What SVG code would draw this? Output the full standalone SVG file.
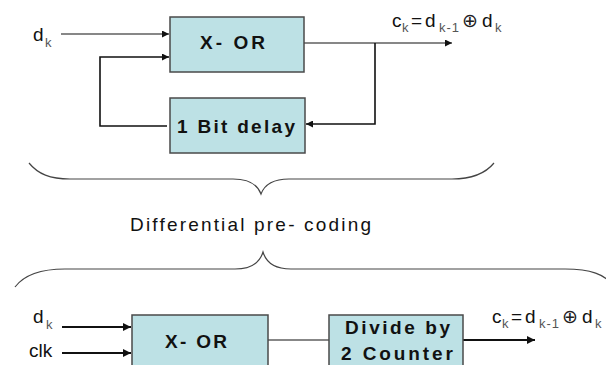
<svg xmlns="http://www.w3.org/2000/svg" width="606" height="365" viewBox="0 0 606 365">
<style>
.box{fill:#bde1e5;stroke:#4a4a4a;stroke-width:1.5}
.lbl{font-family:"Liberation Sans",Arial,sans-serif;font-weight:bold;font-size:19px;fill:#111}
.t{font-family:"Liberation Sans",Arial,sans-serif;font-size:19px;fill:#111}
.sub{font-family:"Liberation Sans",Arial,sans-serif;font-size:13px;fill:#555}
.sym{font-family:"DejaVu Sans",sans-serif;font-size:19px;fill:#222}
.w{fill:none;stroke:#111;stroke-width:1.2}
.wb{fill:none;stroke:#111;stroke-width:2}
.brace{fill:none;stroke:#444;stroke-width:1.2}
</style>
<defs>
<marker id="ah" viewBox="0 0 10 10" refX="10" refY="5" markerWidth="8" markerHeight="7" markerUnits="userSpaceOnUse" orient="auto">
<path d="M0,0 L10,5 L0,10 z" fill="#111"/>
</marker>
<marker id="ahb" viewBox="0 0 10 10" refX="10" refY="5" markerWidth="10" markerHeight="8" markerUnits="userSpaceOnUse" orient="auto">
<path d="M0,0 L10,5 L0,10 z" fill="#111"/>
</marker>
</defs>

<g id="connectors">
<line class="w" x1="61" y1="34" x2="169" y2="34" marker-end="url(#ah)"/>
<polyline class="w" points="167,126 100,126 100,57 169,57" marker-end="url(#ah)" style="stroke-width:1.6"/>
<line class="w" x1="304" y1="43" x2="452" y2="43" marker-end="url(#ah)"/>
<polyline class="w" points="375,43 375,124 306,124" marker-end="url(#ah)" style="stroke-width:1.6"/>
<line class="wb" x1="62" y1="327" x2="131" y2="327" marker-end="url(#ahb)"/>
<line class="wb" x1="62" y1="353" x2="131" y2="353" marker-end="url(#ahb)"/>
<line class="w" x1="268" y1="340" x2="329" y2="340"/>
<line class="wb" x1="463" y1="340" x2="535" y2="340" marker-end="url(#ahb)"/>
</g>

<g id="xor1">
<rect class="box" x="170" y="17" width="134" height="55"/>
<text class="lbl" x="200" y="49" textLength="65" lengthAdjust="spacing">X- OR</text>
</g>

<g id="delay">
<rect class="box" x="170" y="98" width="135" height="55"/>
<text class="lbl" x="177" y="133" textLength="118" lengthAdjust="spacing">1 Bit delay</text>
</g>

<g id="xor2">
<rect class="box" x="132" y="315" width="136" height="60"/>
<text class="lbl" x="165" y="348" textLength="62" lengthAdjust="spacing">X- OR</text>
</g>

<g id="divider">
<rect class="box" x="329" y="315" width="134" height="60"/>
<text class="lbl" x="345" y="334" textLength="105" lengthAdjust="spacing">Divide by</text>
<text class="lbl" x="341" y="360" textLength="112" lengthAdjust="spacing">2 Counter</text>
</g>

<g id="input-top">
<text class="t" x="33" y="41">d</text>
<text class="sub" x="45" y="47">k</text>
</g>

<g id="formula-top">
<text class="t" x="392" y="27">c</text>
<text class="sub" x="402" y="32">k</text>
<text class="t" x="411" y="27">=</text>
<text class="t" x="425" y="27">d</text>
<text class="sub" x="439" y="32" textLength="20" lengthAdjust="spacing">k-1</text>
<text class="sym" x="462" y="27">⊕</text>
<text class="t" x="482" y="27">d</text>
<text class="sub" x="495" y="32">k</text>
</g>

<g id="brace-top">
<path class="brace" d="M29,163 C38,174 50,179 70,179 L233,179 C250,179 258,186 261,194 C264,186 272,179 289,179 L452,179 C472,179 485,174 494,163"/>
</g>

<g id="caption">
<text class="t" x="130" y="231" textLength="241" lengthAdjust="spacing">Differential pre- coding</text>
</g>

<g id="brace-bottom">
<path class="brace" d="M15,287 C24,275 40,269 65,269 L235,269 C252,269 260,262 263,252 C266,262 274,269 291,269 L565,269 C590,269 605,274 615,287"/>
</g>

<g id="inputs-bottom">
<text class="t" x="33" y="323">d</text>
<text class="sub" x="46" y="329">k</text>
<text class="t" x="29" y="357">clk</text>
</g>

<g id="formula-bottom">
<text class="t" x="492" y="323">c</text>
<text class="sub" x="502" y="328">k</text>
<text class="t" x="511" y="323">=</text>
<text class="t" x="525" y="323">d</text>
<text class="sub" x="539" y="328" textLength="20" lengthAdjust="spacing">k-1</text>
<text class="sym" x="562" y="323">⊕</text>
<text class="t" x="582" y="323">d</text>
<text class="sub" x="595" y="328">k</text>
</g>
</svg>
